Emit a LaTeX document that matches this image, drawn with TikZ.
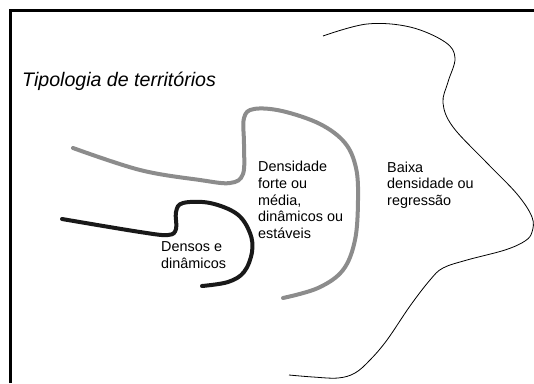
\documentclass[tikz,border=0pt]{standalone}
\usepackage{fontspec}
\setmainfont{Liberation Sans}
\usetikzlibrary{positioning}

\begin{document}
\begin{tikzpicture}[x=1pt,y=-1pt]
	\tikzstyle{frame} = [line width=2.5pt];
	\tikzstyle{zone} = [anchor=west,align=left,inner sep=0,font=\fontsize{14.4}{16.7}\selectfont];
	\tikzstyle{dense} = [line width=4pt,line cap=round,black!90];
	\tikzstyle{medium} = [line width=4pt,line cap=round,black!45];
	\tikzstyle{border} = [line width=0.8pt];
	\useasboundingbox (0,0) rectangle (534,383);
	\draw [frame] (10.5,383) -- (10.5,10.5) -- (534,10.5);
	\node at (22,81) (title) [anchor=west,inner sep=0,font=\fontsize{19.6}{24}\selectfont\itshape] {Tipologia de territórios};
	% limits between the zones
	\draw [medium] plot [smooth,tension=0.6] coordinates {(73,148) (140,170) (200,180) (230,183) (243,174) (244,145) (244,118) (254,109) (282,111) (320,124) (345,143) (356,168) (358,200) (355,240) (343,270) (318,288) (283,298)};
	\draw [dense] plot [smooth,tension=0.6] coordinates {(62,219) (140,232) (168,235) (176,229) (176,212) (183,203) (210,203) (237,214) (250,233) (252,252) (244,272) (228,282) (202,286)};
	\draw [border] plot [smooth,tension=0.6] coordinates {(323,36) (367,24) (410,27) (445,42) (455,58) (448,82) (443,103) (453,127) (487,163) (517,194) (532,217) (532,232) (525,241) (505,250) (467,260) (443,268) (430,280) (410,306) (387,340) (370,360) (355,373) (338,378) (313,377) (289,375)};
	% zone labels
	\node at (161,255) (dense_txt) [zone] {Densos e\\dinâmicos};
	\node at (258,200) (medium_txt) [zone] {Densidade\\forte ou\\média,\\dinâmicos ou\\estáveis};
	\node at (387,185) (low_txt) [zone] {Baixa\\densidade ou\\regressão};
\end{tikzpicture}
\end{document}
